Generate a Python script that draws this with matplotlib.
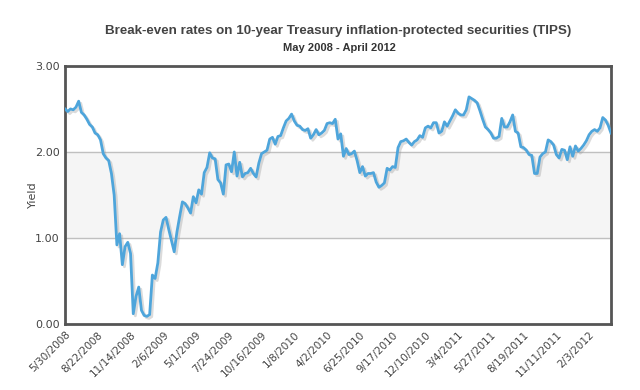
import matplotlib
matplotlib.use("Agg")
import matplotlib.pyplot as plt
import matplotlib.patheffects as pe
import numpy as np

# weekly break-even rates, starting 5/30/2008
weeks_start = "2008-05-30"
yields = [
    2.50, 2.47, 2.50, 2.49, 2.52, 2.59, 2.46, 2.43, 2.38, 2.32,
    2.29, 2.22, 2.20, 2.14, 1.98, 1.93, 1.90, 1.75, 1.50, 0.92,
    1.05, 0.69, 0.90, 0.95, 0.82, 0.12, 0.32, 0.43, 0.16, 0.10,
    0.09, 0.11, 0.57, 0.53, 0.71, 1.07, 1.21, 1.24, 1.10, 0.97,
    0.84, 1.07, 1.25, 1.42, 1.40, 1.35, 1.29, 1.48, 1.41, 1.56,
    1.51, 1.76, 1.82, 1.99, 1.93, 1.92, 1.68, 1.64, 1.51, 1.85,
    1.86, 1.77, 2.00, 1.72, 1.88, 1.71, 1.75, 1.76, 1.81, 1.75,
    1.71, 1.87, 1.98, 2.00, 2.02, 2.15, 2.17, 2.09, 2.18, 2.19,
    2.28, 2.36, 2.39, 2.44, 2.36, 2.31, 2.30, 2.26, 2.25, 2.27,
    2.16, 2.20, 2.26, 2.20, 2.22, 2.25, 2.33, 2.34, 2.33, 2.38,
    2.15, 2.21, 1.95, 2.04, 1.97, 1.98, 2.01, 1.90, 1.76, 1.83,
    1.72, 1.75, 1.75, 1.76, 1.65, 1.59, 1.61, 1.64, 1.81, 1.79,
    1.83, 1.82, 2.05, 2.12, 2.13, 2.15, 2.11, 2.08, 2.12, 2.14,
    2.19, 2.17, 2.28, 2.30, 2.28, 2.34, 2.34, 2.22, 2.24, 2.35,
    2.30, 2.36, 2.42, 2.49, 2.45, 2.43, 2.43, 2.49, 2.64, 2.62,
    2.60, 2.57, 2.48, 2.38, 2.29, 2.26, 2.22, 2.16, 2.16, 2.18,
    2.39, 2.29, 2.29, 2.35, 2.43, 2.24, 2.22, 2.06, 2.05, 2.02,
    1.97, 1.96, 1.75, 1.75, 1.94, 1.98, 2.00, 2.14, 2.12, 2.08,
    1.97, 1.93, 2.03, 2.02, 1.91, 2.06, 1.95, 2.07, 2.01, 2.04,
    2.08, 2.13, 2.20, 2.24, 2.26, 2.24, 2.28, 2.40, 2.37, 2.31,
    2.22,
]
tick_labels = [
    "5/30/2008", "8/22/2008", "11/14/2008", "2/6/2009", "5/1/2009",
    "7/24/2009", "10/16/2009", "1/8/2010", "4/2/2010", "6/25/2010",
    "9/17/2010", "12/10/2010", "3/4/2011", "5/27/2011", "8/19/2011",
    "11/11/2011", "2/3/2012",
]
ytick_values = [0, 1, 2, 3]

x = np.arange(len(yields))
tick_pos = np.arange(len(tick_labels)) * 12

fig = plt.figure(figsize=(6.4, 3.9), dpi=100)
ax = fig.add_axes([0.1016, 0.169, 0.853, 0.662])

# shaded band between 1 and 2, gridlines
ax.axhspan(1, 2, color="#f5f5f5", zorder=0)
for v in ytick_values[1:-1]:
    ax.axhline(v, color="#c0c0c0", lw=1, zorder=1)

ax.plot(x, yields, color="#4ea5db", lw=2, zorder=3,
        path_effects=[pe.SimpleLineShadow(offset=(1.5, -1.5), shadow_color="#999999", alpha=0.35),
                      pe.Normal()])

ax.set_xlim(0, len(yields) - 1)
ax.set_ylim(0, 3)
ax.set_yticks(ytick_values)
ax.set_yticklabels([f"{v:.2f}" for v in ytick_values], fontsize=8, color="#444444")
ax.set_xticks(tick_pos)
ax.set_xticklabels(tick_labels, rotation=45, ha="right", rotation_mode="anchor",
                   fontsize=7.5, color="#444444")
ax.tick_params(length=0, pad=4)
ax.set_ylabel("Yield", fontsize=8, color="#444444")
ax.yaxis.set_label_coords(-0.05, 0.5)

for s in ax.spines.values():
    s.set_color("#555555")
    s.set_linewidth(2)

fig.text(0.528, 0.92, "Break-even rates on 10-year Treasury inflation-protected securities (TIPS)",
         ha="center", va="center", fontsize=9.6, fontweight="bold", color="#444444",
         family=["Liberation Sans Narrow", "Liberation Sans", "DejaVu Sans"])
fig.text(0.53, 0.877, "May 2008 - April 2012", ha="center", va="center", fontsize=8,
         fontweight="bold", color="#333333",
         family=["Liberation Sans Narrow", "Liberation Sans", "DejaVu Sans"])

fig.savefig("out.png", dpi=100)
